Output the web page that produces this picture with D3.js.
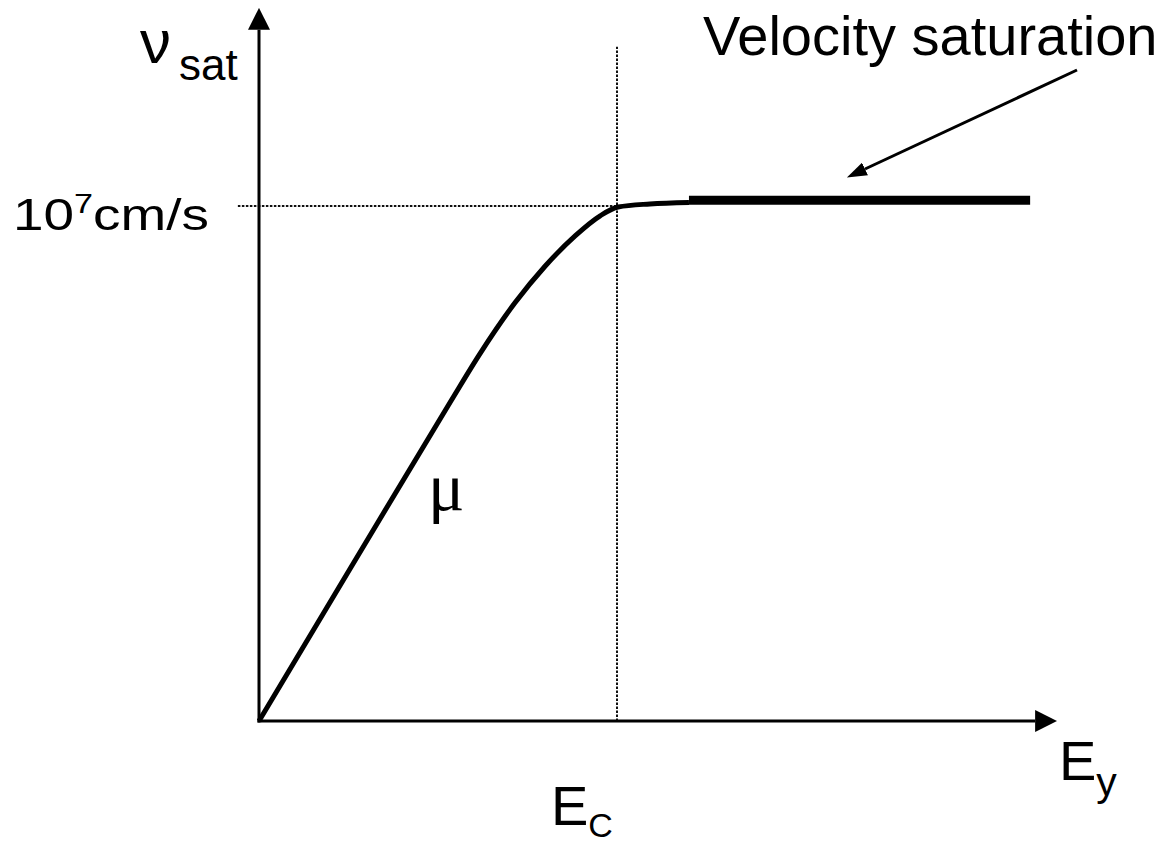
<!DOCTYPE html>
<html>
<head>
<meta charset="utf-8">
<script src="https://cdn.jsdelivr.net/npm/d3@7"></script>
<style>
  html, body { margin: 0; padding: 0; background: #fff; }
  svg { display: block; }
  text { font-family: "Liberation Sans", Arial, sans-serif; fill: #000; }
</style>
</head>
<body>
<svg id="chart" width="1167" height="845"></svg>
<script>
// Drift velocity vs. lateral field (normalised: E / E_C, v / v_sat)
const fieldMobility = [0, 0.254, 0.534, 0.617, 0.715, 0.799, 0.883, 0.953, 1.003, 1.092, 1.201];
const velocityMobility = [0, 0.295, 0.619, 0.713, 0.812, 0.883, 0.942, 0.981, 0.998, 1.004, 1.007];
const fieldSaturated = [1.201, 2.154];
const velocitySaturated = [1.011, 1.011];
const criticalField = 1;      // E_C
const saturationVelocity = 1; // 10^7 cm/s

const svg = d3.select("#chart");

const x = d3.scaleLinear().domain([0, 1]).range([259, 617]);
const y = d3.scaleLinear().domain([0, 1]).range([721, 206]);

const defs = svg.append("defs");
defs.append("marker")
  .attr("id", "arrow")
  .attr("viewBox", "0 0 22 22")
  .attr("refX", 0).attr("refY", 11)
  .attr("markerWidth", 22).attr("markerHeight", 22)
  .attr("markerUnits", "userSpaceOnUse")
  .attr("orient", "auto")
  .append("path").attr("d", "M0,0 L22,11 L0,22 Z").attr("fill", "#000");
defs.append("marker")
  .attr("id", "arrowSmall")
  .attr("viewBox", "0 0 20 14")
  .attr("refX", 0).attr("refY", 7)
  .attr("markerWidth", 20).attr("markerHeight", 14)
  .attr("markerUnits", "userSpaceOnUse")
  .attr("orient", "auto")
  .append("path").attr("d", "M0,0 L20,7 L0,14 Z").attr("fill", "#000");

// Reference lines at E_C and v_sat
svg.append("line")
  .attr("x1", x(-0.059)).attr("x2", x(criticalField))
  .attr("y1", y(saturationVelocity)).attr("y2", y(saturationVelocity))
  .attr("stroke", "#111").attr("stroke-width", 2).attr("stroke-dasharray", "2.5,1.5");
svg.append("line")
  .attr("x1", x(criticalField)).attr("x2", x(criticalField))
  .attr("y1", y(0)).attr("y2", y(1.309))
  .attr("stroke", "#111").attr("stroke-width", 2).attr("stroke-dasharray", "2.5,1.5");

// Axes without ticks, ending in arrowheads
const xAxis = svg.append("g").attr("transform", `translate(0,${y(0)})`)
  .call(d3.axisBottom(x).tickValues([]).tickSizeOuter(0));
xAxis.select(".domain")
  .attr("d", `M${x(0) - 1.5},0H${x(2.168)}`)
  .attr("stroke", "#000").attr("stroke-width", 3)
  .attr("marker-end", "url(#arrow)");
const yAxis = svg.append("g").attr("transform", `translate(${x(0)},0)`)
  .call(d3.axisLeft(y).tickValues([]).tickSizeOuter(0));
yAxis.select(".domain")
  .attr("d", `M0,${y(0) + 1.5}V${y(1.342)}`)
  .attr("stroke", "#000").attr("stroke-width", 3)
  .attr("marker-end", "url(#arrow)");

// Mobility-limited region
const line = d3.line().x(d => x(d[0])).y(d => y(d[1])).curve(d3.curveMonotoneX);
svg.append("path")
  .datum(d3.zip(fieldMobility, velocityMobility))
  .attr("d", line)
  .attr("fill", "none").attr("stroke", "#000").attr("stroke-width", 5)
  .attr("stroke-linejoin", "round");

// Saturated region
svg.append("path")
  .datum(d3.zip(fieldSaturated, velocitySaturated))
  .attr("d", d3.line().x(d => x(d[0])).y(d => y(d[1])))
  .attr("fill", "none").attr("stroke", "#000").attr("stroke-width", 9);

// Annotation arrow
svg.append("line")
  .attr("x1", 1077).attr("y1", 70).attr("x2", 865).attr("y2", 169)
  .attr("stroke", "#000").attr("stroke-width", 3)
  .attr("marker-end", "url(#arrowSmall)");

// Labels
svg.append("text").attr("x", 703).attr("y", 55).attr("font-size", 56).text("Velocity saturation");

const vLabel = svg.append("text").attr("x", 140).attr("y", 63);
vLabel.append("tspan").attr("font-size", 62).text("ν");
vLabel.append("tspan").attr("x", 179).attr("y", 80).attr("font-size", 44).text("sat");

const tick = svg.append("text").attr("transform", "translate(13,230) scale(1.22,1)").attr("font-size", 45);
tick.append("tspan").text("10");
tick.append("tspan").attr("font-size", 28).attr("dy", -17).text("7");
tick.append("tspan").attr("dy", 17).text("cm/s");

svg.append("text").attr("x", 428).attr("y", 510)
  .style("font-family", "'Liberation Serif', 'Times New Roman', serif")
  .attr("font-size", 68).text("μ");

const ec = svg.append("text").attr("x", 551).attr("y", 825).attr("font-size", 56);
ec.append("tspan").text("E");
ec.append("tspan").attr("font-size", 34).attr("dy", 12).text("C");

const ey = svg.append("text").attr("x", 1059).attr("y", 780).attr("font-size", 56);
ey.append("tspan").text("E");
ey.append("tspan").attr("font-size", 41).attr("dy", 16).text("y");
</script>
</body>
</html>
